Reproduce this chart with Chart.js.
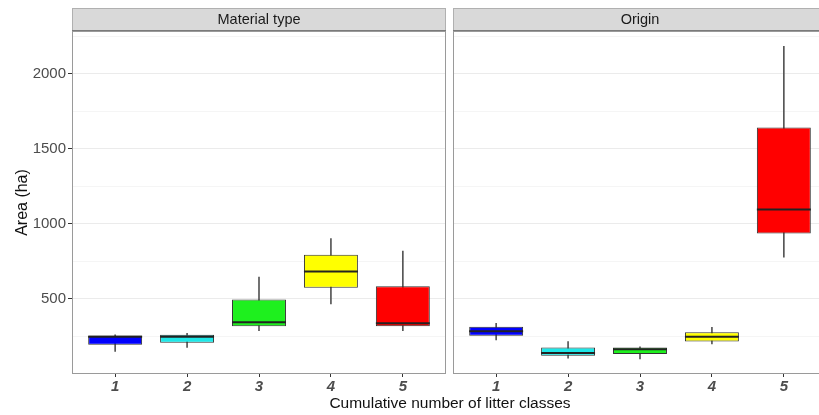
<!DOCTYPE html>
<html>
<head>
<meta charset="utf-8">
<script src="https://cdn.jsdelivr.net/npm/chart.js@4/dist/chart.umd.min.js"></script>
<style>
  body { margin: 0; background: #fff; overflow: hidden; width: 819px; height: 415px; position: relative; }
  canvas { position: absolute; top: 0; }
  #xtitle { position: absolute; left: 450px; top: 394px; transform: translateX(-50%);
            font: 15.5px "Liberation Sans", Arial, sans-serif; line-height: 18px; color: #111; white-space: nowrap; }
</style>
</head>
<body>
<canvas id="left" width="447" height="415" style="left:0"></canvas>
<canvas id="right" width="381" height="415" style="left:447px"></canvas>
<div id="xtitle">Cumulative number of litter classes</div>
<script>
// cumulative number of litter classes
const classes = [1, 2, 3, 4, 5];
const boxColors = ["#0000ff", "#1ee8e8", "#1ef01e", "#ffff00", "#ff0000"];

// Material type panel
const matLower  = [147, 174, 286, 465, 286];
const matQ1     = [192, 206, 315, 572, 315];
const matMedian = [246, 246, 342, 681, 336];
const matQ3     = [253, 259, 494, 793, 583];
const matUpper  = [258, 268, 643, 900, 817];

// Origin panel
const orgLower  = [224, 103, 98, 197, 777];
const orgQ1     = [252, 119, 130, 214, 934];
const orgMedian = [283, 137, 162, 246, 1094];
const orgQ3     = [313, 174, 174, 275, 1641];
const orgUpper  = [335, 214, 178, 308, 2183];

const yTicks = [250, 500, 750, 1000, 1250, 1500, 1750, 2000, 2250];

const FONT = "'Liberation Sans', Arial, sans-serif";

// strip on top and grey border round each panel
const panelDeco = {
  id: "panelDeco",
  beforeDraw(chart) {
    const { ctx, chartArea: a, titleBlock: t } = chart;
    ctx.save();
    ctx.fillStyle = "#d9d9d9";
    ctx.fillRect(a.left, t.top, a.right - a.left, t.bottom - t.top);
    ctx.strokeStyle = "#b0b0b0";
    ctx.lineWidth = 1;
    ctx.strokeRect(a.left + 0.5, t.top + 0.5, a.right - a.left - 1, t.bottom - t.top);
    ctx.restore();
  },
  afterDraw(chart) {
    const { ctx, chartArea: a, titleBlock: t } = chart;
    ctx.save();
    ctx.strokeStyle = "#9a9a9a";
    ctx.lineWidth = 1;
    ctx.strokeRect(a.left + 0.5, a.top + 0.5, a.right - a.left - 1, a.bottom - a.top - 1);
    ctx.strokeStyle = "#7a7a7a";
    ctx.beginPath();
    ctx.moveTo(a.left, t.bottom - 0.5);
    ctx.lineTo(a.right, t.bottom - 0.5);
    ctx.stroke();
    ctx.restore();
  },
};

function makePanel(id, title, lower, q1, median, q3, upper, showY) {
  const pts = (arr) => classes.map((c, i) => ({ x: c, y: arr[i] }));
  const ranges = (a, b) => classes.map((c, i) => ({ x: c, y: [a[i], b[i]] }));

  return new Chart(document.getElementById(id), {
    type: "bar",
    data: {
      datasets: [
        {
          // median lines
          type: "line",
          data: pts(median),
          showLine: false,
          pointStyle: "line",
          pointRadius: (ctx) => {
            const x = ctx.chart.scales.x;
            return x.getPixelForValue(1.375) - x.getPixelForValue(1);
          },
          pointBorderColor: "#222",
          pointBorderWidth: 2,
          order: 1,
        },
        {
          // boxes
          data: ranges(q1, q3),
          backgroundColor: boxColors,
          borderColor: "#333",
          borderWidth: 1,
          borderSkipped: false,
          grouped: false,
          categoryPercentage: 1,
          barPercentage: 0.75,
          order: 2,
        },
        {
          // whiskers
          data: ranges(lower, upper),
          backgroundColor: "#555",
          barThickness: 1,
          grouped: false,
          order: 3,
        },
      ],
    },
    options: {
      responsive: false,
      animation: false,
      layout: { padding: { top: 8, right: 1, bottom: 0, left: showY ? 0 : 6 } },
      plugins: {
        legend: { display: false },
        tooltip: { enabled: false },
        title: {
          display: true,
          text: title,
          fullSize: false,
          color: "#1a1a1a",
          font: { family: FONT, size: 14.5, weight: "normal", lineHeight: 1.2 },
          padding: { top: 2.8, bottom: 2.8 },
        },
      },
      scales: {
        x: {
          type: "linear",
          min: 0.4,
          max: 5.6,
          offset: false,
          afterBuildTicks: (axis) => { axis.ticks = classes.map((v) => ({ value: v })); },
          afterFit: (s) => { s.height = 41; },
          grid: { drawOnChartArea: false, offset: false, color: "#333", tickLength: 3 },
          border: { display: false },
          ticks: {
            padding: 1,
            color: "#4d4d4d",
            font: { family: FONT, size: 15, style: "italic", weight: "bold" },
          },
        },
        y: {
          min: -3,
          max: 2285,
          afterBuildTicks: (axis) => { axis.ticks = yTicks.map((v) => ({ value: v })); },
          afterFit: (s) => { s.width = showY ? 72 : 0; },
          grid: {
            color: (ctx) => (ctx.tick && ctx.tick.value % 500 === 0 ? "#ebebeb" : "#f5f5f5"),
            tickColor: (ctx) => (ctx.tick && ctx.tick.value % 500 === 0 ? "#333" : "rgba(0,0,0,0)"),
            tickLength: 4,
            drawTicks: showY,
          },
          border: { display: false },
          ticks: {
            display: showY,
            padding: 2,
            color: "#4d4d4d",
            font: { family: FONT, size: 15 },
            callback: (v) => (v % 500 === 0 ? v : ""),
          },
          title: {
            display: showY,
            text: "Area (ha)",
            color: "#111",
            font: { family: FONT, size: 16 },
            padding: { top: 13, bottom: 0 },
          },
        },
      },
    },
    plugins: [panelDeco],
  });
}

makePanel("left", "Material type", matLower, matQ1, matMedian, matQ3, matUpper, true);
makePanel("right", "Origin", orgLower, orgQ1, orgMedian, orgQ3, orgUpper, false);
</script>
</body>
</html>
